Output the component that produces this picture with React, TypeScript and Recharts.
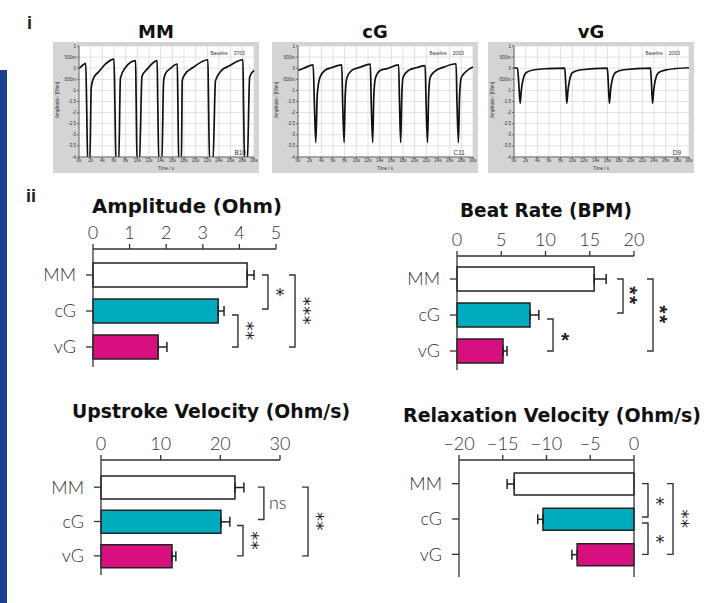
import React from 'react';
import {
  BarChart,
  Bar,
  XAxis,
  YAxis,
  Cell,
  ErrorBar,
  ReferenceLine,
  LineChart,
  Line,
  CartesianGrid,
} from 'recharts';

// ---------- panel i : impedance traces ----------
const traceTimeTicks = [0, 2, 4, 6, 8, 10, 12, 14, 16, 18, 20, 22, 24, 26, 28, 30];
const traceTimeLabels = ['0s', '2s', '4s', '6s', '8s', '10s', '12s', '14s', '16s', '18s', '20s', '22s', '24s', '26s', '28s', '30s'];
const traceAmpTicks = [1, 0.5, 0, -0.5, -1, -1.5, -2, -2.5, -3, -3.5, -4];
const traceAmpLabels = ['1', '500m', '0', '-500m', '-1', '-1.5', '-2', '-2.5', '-3', '-3.5', '-4'];

// [time s, amplitude Ohm]
const mmTrace = [
  [0, 0], [0.5, 0.1], [1.15, 0.22], [1.3, -1.5], [1.5, -4.3], [1.85, -4.3], [2.1, -0.86], [2.55, -0.41],
  [3.4, -0.16], [4.55, 0.19], [6.0, 0.41], [6.15, -1.5], [6.35, -4.3], [6.8, -4.3], [7.1, -0.45], [8.0, 0.04],
  [9.7, 0.34], [9.8, -1.5], [9.95, -4.3], [10.35, -4.3], [10.8, -0.36], [11.7, -0.04], [13.4, 0.34], [13.5, -1.5],
  [13.7, -4.3], [14.2, -4.3], [14.5, -0.6], [14.8, -0.26], [15.8, 0.02], [16.85, 0.19], [16.95, -1.5], [17.1, -4.3],
  [17.55, -4.3], [17.7, -0.56], [18.2, -0.26], [19.6, 0.04], [22.1, 0.38], [22.2, -1.5], [22.4, -4.3], [22.95, -4.3],
  [23.4, -0.56], [24.4, -0.11], [25.8, 0.11], [28.1, 0.38], [28.2, -1.5], [28.4, -4.3], [28.85, -4.3], [29.25, -0.41],
  [30, -0.1],
];
const cgTrace = [
  [0, -0.1], [1, 0.0], [2.6, 0.15], [2.8, -1.5], [3.05, -3.35], [3.3, -1.2], [3.75, -0.42], [4.6, -0.1], [5.8, 0.03],
  [7.5, 0.15], [7.65, -1.5], [7.9, -3.35], [8.1, -1.2], [8.4, -0.42], [9.2, -0.1], [10.7, 0.05], [12.4, 0.18],
  [12.55, -1.5], [12.8, -3.35], [13.0, -1.2], [13.3, -0.42], [14.1, -0.1], [15.3, -0.02], [17.25, 0.15], [17.4, -1.5],
  [17.6, -3.35], [17.8, -1.2], [18.0, -0.42], [18.95, -0.1], [20.4, 0.03], [21.8, 0.12], [21.95, -1.5], [22.2, -3.35],
  [22.4, -1.2], [22.65, -0.42], [23.4, -0.15], [25.0, 0.05], [27.1, 0.2], [27.25, -1.5], [27.5, -3.35], [27.7, -1.2],
  [28.0, -0.42], [28.8, -0.15], [30, 0.05],
];
const vgTrace = [
  [0, 0.02], [0.6, 0.0], [0.8, -0.6], [1.05, -1.58], [1.25, -1.0], [1.5, -0.57], [2.1, -0.19], [3.5, -0.07],
  [5.8, -0.02], [8.7, 0.0], [8.85, -0.6], [9.05, -1.58], [9.25, -1.0], [9.5, -0.57], [10.05, -0.19], [11.5, -0.07],
  [16.0, 0.0], [16.15, -0.6], [16.35, -1.58], [16.55, -1.0], [16.8, -0.57], [17.4, -0.19], [18.8, -0.07],
  [23.4, 0.0], [23.55, -0.6], [23.75, -1.58], [23.95, -1.0], [24.2, -0.57], [24.8, -0.19], [26.2, -0.07], [30, 0.02],
];

const traces = [
  { title: 'MM', points: mmTrace, left: 53, baseline: '37/03', well: 'B10' },
  { title: 'cG', points: cgTrace, left: 272, baseline: '20/03', well: 'C11' },
  { title: 'vG', points: vgTrace, left: 488, baseline: '20/03', well: 'D9' },
];

// ---------- panel ii : summary bars ----------
const groups = ['MM', 'cG', 'vG'];
const groupColors = ['#ffffff', '#00abbe', '#d8107f'];
const sigPairs = [[0, 1], [1, 2], [0, 2]];

const amplitudeMean = [4.21, 3.42, 1.78];
const amplitudeSem = [0.19, 0.16, 0.24];
const amplitudeTicks = [0, 1, 2, 3, 4, 5];
const amplitudeTickLabels = ['0', '1', '2', '3', '4', '5'];
const amplitudeSig = ['*', '**', '***'];

const beatMean = [15.5, 8.25, 5.2];
const beatSem = [1.35, 1.0, 0.45];
const beatTicks = [0, 5, 10, 15, 20];
const beatTickLabels = ['0', '5', '10', '15', '20'];
const beatSig = ['**', '*', '**'];

const upstrokeMean = [22.45, 20.1, 11.9];
const upstrokeSem = [1.5, 1.5, 0.65];
const upstrokeTicks = [0, 10, 20, 30];
const upstrokeTickLabels = ['0', '10', '20', '30'];
const upstrokeSig = ['ns', '**', '**'];

const relaxMean = [-13.7, -10.4, -6.5];
const relaxSem = [0.8, 0.6, 0.6];
const relaxTicks = [-20, -15, -10, -5, 0];
const relaxTickLabels = ['\u221220', '\u221215', '\u221210', '\u22125', '0'];
const relaxSig = ['*', '*', '**'];

const INK = '#333';
const LIGHT = 'Lato, "DejaVu Sans", sans-serif';
const BOLD = '"DejaVu Sans", sans-serif';
const ARIAL = '"Liberation Sans", Arial, sans-serif';
const Y_W = 60;
const X_H = 30;

const statCharts = [
  {
    title: 'Amplitude (Ohm)', mean: amplitudeMean, sem: amplitudeSem, ticks: amplitudeTicks, labels: amplitudeTickLabels,
    sig: amplitudeSig, bracketX: [4.78, 3.96, 5.52], box: { left: 0, top: 215, width: 345, height: 160 },
    plot: { left: 93, top: 249, right: 276, bottom: 367 }, pad: { top: 8, bottom: 2 }, barSize: 24,
    head: { cx: 187, base: 213, len: 190 }, starBold: false,
  },
  {
    title: 'Beat Rate (BPM)', mean: beatMean, sem: beatSem, ticks: beatTicks, labels: beatTickLabels,
    sig: beatSig, bracketX: [18.76, 10.85, 22.15], box: { left: 350, top: 215, width: 360, height: 165 },
    plot: { left: 457, top: 256, right: 634, bottom: 370 }, pad: { top: 5, bottom: 1 }, barSize: 24,
    head: { cx: 546, base: 217, len: 172 }, starBold: true,
  },
  {
    title: 'Upstroke Velocity (Ohm/s)', mean: upstrokeMean, sem: upstrokeSem, ticks: upstrokeTicks, labels: upstrokeTickLabels,
    sig: upstrokeSig, bracketX: [27.3, 23.8, 34.7], box: { left: 0, top: 420, width: 345, height: 165 },
    plot: { left: 101, top: 460, right: 280, bottom: 575 }, pad: { top: 10, bottom: 2 }, barSize: 23,
    head: { cx: 211, base: 418, len: 278 }, starBold: false,
  },
  {
    title: 'Relaxation Velocity (Ohm/s)', mean: relaxMean, sem: relaxSem, ticks: relaxTicks, labels: relaxTickLabels,
    sig: relaxSig, bracketX: [1.6, 1.6, 4.46], box: { left: 350, top: 420, width: 360, height: 165 },
    plot: { left: 459, top: 460, right: 634, bottom: 577 }, pad: { top: 6, bottom: 5 }, barSize: 22,
    head: { cx: 552, base: 422, len: 298 }, starBold: false, zeroLine: true,
  },
];

function SigMark({ viewBox, text, bold, inTop, inBottom }: any) {
  if (!viewBox) return null;
  const { x, y, height } = viewBox;
  const top = y + inTop;
  const bottom = y + height - inBottom;
  const mid = (top + bottom) / 2;
  const arm = 6;
  const stars = /^\*+$/.test(text) ? text.length : 0;
  const fs = bold ? 21 : 18;
  const sx = x + (bold ? 12 : 12);
  const lift = fs * (bold ? 0.58 : 0.52);
  const family = bold ? ARIAL : BOLD;
  const weight = bold ? 'bold' : 'normal';
  let mark;
  if (stars === 1) {
    mark = (
      <text x={sx} y={mid + lift} textAnchor="middle" fontSize={fs} fontFamily={family} fontWeight={weight} fill="#222">
        *
      </text>
    );
  } else if (stars > 1) {
    const px = sx - lift;
    mark = (
      <text x={px} y={mid} transform={`rotate(90 ${px} ${mid})`} textAnchor="middle" fontSize={fs}
        fontFamily={family} fontWeight={weight} fill="#222" letterSpacing={bold ? 1.5 : 0.5}>
        {text}
      </text>
    );
  } else {
    mark = (
      <text x={x + 5} y={mid + 6} fontSize={18} fontFamily={LIGHT} fontWeight={300} fill={INK}>
        {text}
      </text>
    );
  }
  return (
    <g>
      <path d={`M${x - arm},${top}H${x}V${bottom}H${x - arm}`} fill="none" stroke={INK} strokeWidth={1.4} />
      {mark}
    </g>
  );
}

function StatChart({ cfg }: any) {
  const negative = cfg.mean[0] < 0;
  const data = groups.map((g, i) => ({
    group: g,
    mean: cfg.mean[i],
    err: negative ? [cfg.sem[i], 0] : [0, cfg.sem[i]],
  }));
  const { box, plot } = cfg;
  const margin = {
    left: plot.left - box.left - Y_W,
    top: plot.top - box.top - X_H,
    right: box.left + box.width - plot.right,
    bottom: box.top + box.height - plot.bottom,
  };
  const tickStyle = { fontSize: 18, fill: INK, fontFamily: LIGHT, fontWeight: 300 };
  return (
    <div style={{ position: 'absolute', left: box.left, top: box.top }}>
      <BarChart layout="vertical" width={box.width} height={box.height} data={data} margin={margin}>
        <XAxis
          type="number"
          orientation="top"
          domain={[cfg.ticks[0], cfg.ticks[cfg.ticks.length - 1]]}
          ticks={cfg.ticks}
          interval={0}
          tickFormatter={(v: number) => cfg.labels[cfg.ticks.indexOf(v)]}
          height={X_H}
          axisLine={{ stroke: INK, strokeWidth: 1.3 }}
          tickLine={{ stroke: INK, strokeWidth: 1.3 }}
          tickSize={5}
          tickMargin={5}
          tick={tickStyle}
        />
        <YAxis
          type="category"
          dataKey="group"
          width={Y_W}
          padding={cfg.pad}
          axisLine={{ stroke: INK, strokeWidth: 1.3 }}
          tickLine={{ stroke: INK, strokeWidth: 1.3 }}
          tickSize={7}
          tickMargin={10}
          tick={tickStyle}
        />
        {cfg.zeroLine && <ReferenceLine x={0} stroke={INK} strokeWidth={1.3} />}
        <Bar dataKey="mean" barSize={cfg.barSize} stroke="#222" strokeWidth={1.5} isAnimationActive={false}>
          {groups.map((g, i) => (
            <Cell key={g} fill={groupColors[i]} />
          ))}
          <ErrorBar dataKey="err" direction="x" width={5} stroke="#222" strokeWidth={1.5} isAnimationActive={false} />
        </Bar>
        {sigPairs.map(([a, b], k) => (
          <ReferenceLine
            key={k}
            segment={[
              { x: cfg.bracketX[k], y: groups[a] },
              { x: cfg.bracketX[k], y: groups[b] },
            ]}
            stroke="none"
            ifOverflow="visible"
            label={(lp: any) => (
              <SigMark
                viewBox={lp.viewBox}
                text={cfg.sig[k]}
                bold={cfg.starBold}
                inTop={a === 1 ? 4 : 0}
                inBottom={b === 1 ? 2 : 0}
              />
            )}
          />
        ))}
      </BarChart>
    </div>
  );
}

function TracePanel({ cfg }: any) {
  const data = cfg.points.map(([t, v]: number[]) => ({ t, v }));
  const small = { fontSize: 4.5, fill: '#333', fontFamily: ARIAL };
  return (
    <div style={{ position: 'absolute', left: cfg.left, top: 42, width: 206, height: 131, background: '#d4d4d4' }}>
      <LineChart width={206} height={131} data={data} margin={{ top: 4, right: 5, bottom: 0, left: 0 }}>
        <CartesianGrid stroke="#d6d6d6" strokeWidth={0.7} fill="#ffffff" />
        <XAxis
          dataKey="t"
          type="number"
          domain={[0, 30]}
          ticks={traceTimeTicks}
          interval={0}
          tickFormatter={(v: number) => traceTimeLabels[traceTimeTicks.indexOf(v)]}
          height={16}
          tickSize={2}
          tickMargin={0}
          stroke="#666"
          tick={small}
        />
        <YAxis
          type="number"
          domain={[-4, 1]}
          allowDataOverflow
          ticks={traceAmpTicks}
          interval={0}
          tickFormatter={(v: number) => traceAmpLabels[traceAmpTicks.indexOf(v)]}
          width={26}
          tickSize={2}
          tickMargin={1}
          stroke="#666"
          tick={small}
        />
        <Line dataKey="v" type="monotone" stroke="#111" strokeWidth={1.7} dot={false} isAnimationActive={false} />
      </LineChart>
      <svg width={206} height={131} style={{ position: 'absolute', left: 0, top: 0, pointerEvents: 'none' }}>
        <text x={6} y={58} transform="rotate(-90 6 58)" textAnchor="middle" {...small}>
          Amplitude / [Ohm]
        </text>
        <text x={113} y={128} textAnchor="middle" {...small}>
          Time / s
        </text>
        <text x={192} y={13} textAnchor="end" {...small}>
          {'Baseline'}
          <tspan dx={6}>{cfg.baseline}</tspan>
        </text>
        <text x={193} y={113} textAnchor="end" {...small} fontSize={6.5}>
          {cfg.well}
        </text>
      </svg>
    </div>
  );
}

export default function App() {
  return (
    <div style={{ position: 'absolute', left: 0, top: 0, width: 710, height: 603, background: '#fff', overflow: 'hidden' }}>
      <div style={{ position: 'absolute', left: 0, top: 70, width: 7, height: 533, background: '#1d4190' }} />
      {traces.map((t) => (
        <TracePanel key={t.title} cfg={t} />
      ))}
      {statCharts.map((c) => (
        <StatChart key={c.title} cfg={c} />
      ))}
      <svg width={710} height={603} style={{ position: 'absolute', left: 0, top: 0, pointerEvents: 'none' }}>
        <text x={27} y={29} fontSize={18} fontWeight="bold" fontFamily={ARIAL} fill="#222">
          i
        </text>
        <text x={26} y={202} fontSize={18} fontWeight="bold" fontFamily={ARIAL} fill="#222">
          ii
        </text>
        {traces.map((t) => (
          <text key={t.title} x={t.left + 103} y={38} textAnchor="middle" fontSize={18} fontWeight="bold" fontFamily={BOLD} fill="#111">
            {t.title}
          </text>
        ))}
        {statCharts.map((c) => (
          <text
            key={c.title}
            x={c.head.cx}
            y={c.head.base}
            textAnchor="middle"
            fontSize={c.head.len > 290 ? 19 : 20}
            fontWeight="bold"
            fontFamily={BOLD}
            fill="#111"
            textLength={c.head.len}
            lengthAdjust="spacingAndGlyphs"
          >
            {c.title}
          </text>
        ))}
      </svg>
    </div>
  );
}
